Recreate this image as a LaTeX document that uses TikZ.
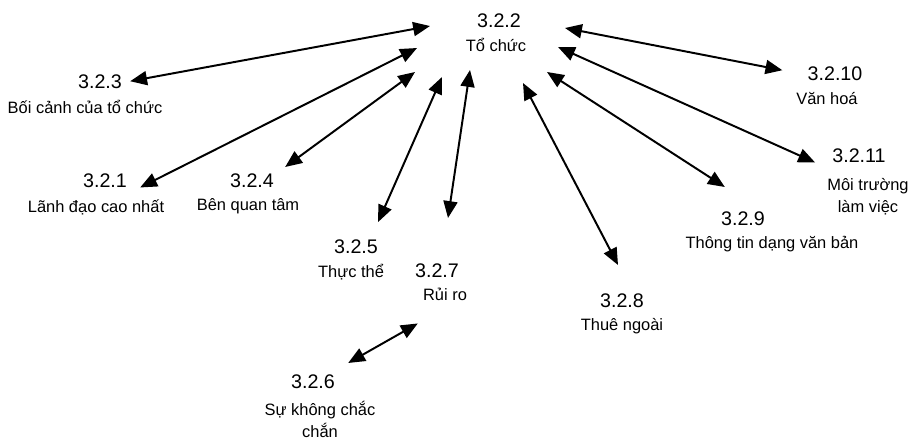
\documentclass[tikz,border=0pt]{standalone}
\usepackage{fontspec}
\setmainfont{Liberation Sans}
\usetikzlibrary{arrows.meta, positioning, calc}

\begin{document}
\begin{tikzpicture}[>={Triangle[length=12pt,width=10pt]},clausenum/.style={anchor=base,inner sep=0pt,font=\fontsize{14}{16}\selectfont},clausename/.style={anchor=base,inner sep=0pt,align=center,font=\fontsize{11.7}{15}\selectfont},link/.style={<->,line width=1.4pt}]
\useasboundingbox (0,0) rectangle (22.8,-11.1);
% centre: organisation
\node[clausenum] (n322) at (12.475,-0.675) {3.2.2};
\node[clausename] (l322) at (12.4,-1.275) {Tổ chức};
% surrounding clauses
\node[clausenum] (n323) at (2.5,-2.2) {3.2.3};
\node[clausename] (l323) at (2.125,-2.825) {Bối cảnh của tổ chức};
\node[clausenum] (n321) at (2.625,-4.675) {3.2.1};
\node[clausename] (l321) at (2.4,-5.3) {Lãnh đạo cao nhất};
\node[clausenum] (n324) at (6.3,-4.675) {3.2.4};
\node[clausename] (l324) at (6.2,-5.25) {Bên quan tâm};
\node[clausenum] (n325) at (8.9,-6.325) {3.2.5};
\node[clausename] (l325) at (8.775,-6.925) {Thực thể};
\node[clausenum] (n327) at (10.925,-6.925) {3.2.7};
\node[clausename] (l327) at (11.125,-7.5) {Rủi ro};
\node[clausenum] (n328) at (15.55,-7.675) {3.2.8};
\node[clausename] (l328) at (15.55,-8.25) {Thuê ngoài};
\node[clausenum] (n326) at (7.825,-9.7) {3.2.6};
% two-line names sit on their last baseline
\node[clausename] (l326) at (8.0,-10.925) {Sự không chắc\\chắn};
\node[clausenum] (n329) at (18.575,-5.625) {3.2.9};
\node[clausename] (l329) at (19.3,-6.2) {Thông tin dạng văn bản};
\node[clausenum] (n3210) at (20.875,-2.0) {3.2.10};
\node[clausename] (l3210) at (20.675,-2.6) {Văn hoá};
\node[clausenum] (n3211) at (21.475,-4.05) {3.2.11};
\node[clausename] (l3211) at (21.7,-5.3) {Môi trường\\làm việc};
% arrow ends around the centre
\coordinate (h323) at (10.75,-0.65);
\coordinate (h321) at (10.425,-1.2);
\coordinate (h324) at (10.375,-1.8);
\coordinate (h325) at (11.05,-1.925);
\coordinate (h327) at (11.75,-1.75);
\coordinate (h328) at (13.075,-2.075);
\coordinate (h329) at (13.675,-1.8);
\coordinate (h3211) at (13.95,-1.175);
\coordinate (h3210) at (14.125,-0.7);
% links
\draw[link] (h323) -- ([xshift=0.2cm]n323.east);
\draw[link] (h321) -- ([xshift=0.325cm]n321.south east);
\draw[link] (h324) -- ([shift={(0.275,0.15)}]n324.north east);
\draw[link] (h325) -- ([yshift=0.425cm]n325.north east);
\draw[link] (h327) -- ([shift={(0.275,1.125)}]n327.north);
\draw[link] (h328) -- ([shift={(-0.1,0.7)}]n328.north);
\draw[link] (h329) -- ([shift={(0.1,0.6)}]n329.north west);
\draw[link] (h3211) -- ([xshift=-0.425cm]n3211.south west);
\draw[link] (h3210) -- ([shift={(-0.625,0.075)}]n3210.west);
\draw[link] ([shift={(-0.125,-0.575)}]l327.south west) -- ([shift={(0.325,0.275)}]n326.north east);
\end{tikzpicture}
\end{document}
